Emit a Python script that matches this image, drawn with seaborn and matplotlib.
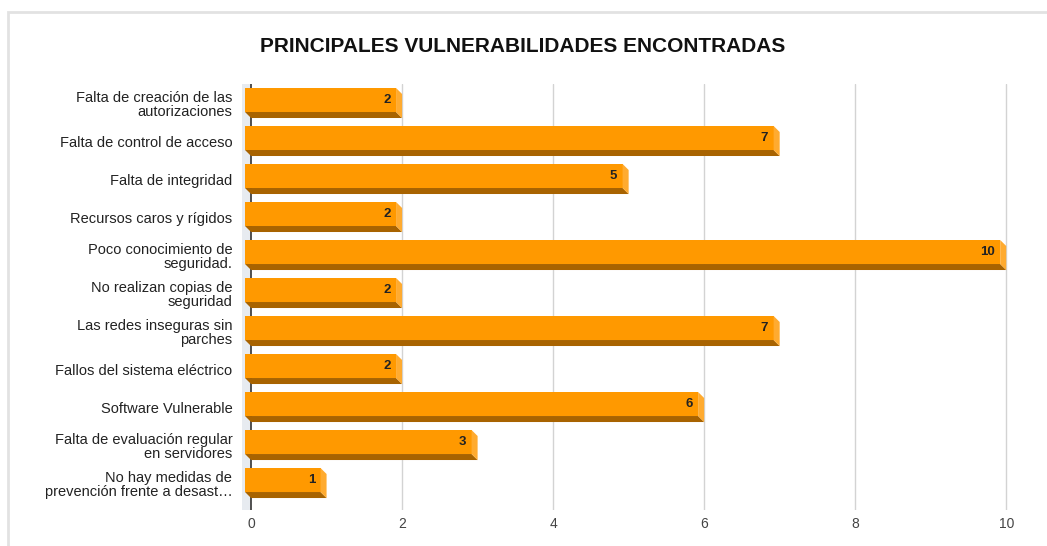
import numpy as np
import pandas as pd
import matplotlib
matplotlib.use('Agg')
import matplotlib.pyplot as plt
from matplotlib.patches import Polygon, Rectangle
import seaborn as sns

labels = [
    'Falta de creación de las\nautorizaciones',
    'Falta de control de acceso',
    'Falta de integridad',
    'Recursos caros y rígidos',
    'Poco conocimiento de\nseguridad.',
    'No realizan copias de\nseguridad',
    'Las redes inseguras sin\nparches',
    'Fallos del sistema eléctrico',
    'Software Vulnerable',
    'Falta de evaluación regular\nen servidores',
    'No hay medidas de\nprevención frente a desast…',
]
values = [2, 7, 5, 2, 10, 2, 7, 2, 6, 3, 1]
xticks = [0, 2, 4, 6, 8, 10]

df = pd.DataFrame({'label': labels, 'value': values})

sns.set_style('white')
plt.rcParams['font.family'] = ['Liberation Sans', 'DejaVu Sans']

fig = plt.figure(figsize=(10.47, 5.46), dpi=100)
ax = fig.add_axes([242 / 1047, 36 / 546, 768 / 1047, 426 / 546])

# colores de la barra 3D
c_front = '#ff9900'
c_side = '#ffab30'
c_bottom = '#a86300'
dx = 0.08   # profundidad horizontal (unidades de datos)
dy = 0.158  # profundidad vertical (unidades de categoria)

sns.barplot(data=df, x='value', y='label', orient='h', color=c_front,
            width=0.79, saturation=1, ax=ax, zorder=3)

ax.set_xlim(-0.12, 10.05)
ax.set_ylim(10.71, -0.5)

# pared izquierda gris claro
ax.axvspan(-0.12, 0, color='#e7ebf0', zorder=1, lw=0)
for xt in xticks[1:]:
    ax.axvline(xt, color='#d3d3d3', lw=1, zorder=1)
ax.axvline(0, color='#333333', lw=1.2, zorder=2)

for p, v in zip(ax.patches, values):
    y0 = p.get_y()
    h = p.get_height()
    y1 = y0 + h
    p.set_x(-dx)
    p.set_height(h - dy)
    p.set_linewidth(0)
    bottom = Polygon([(-dx, y1 - dy), (v - dx, y1 - dy), (v, y1), (0, y1)],
                     closed=True, color=c_bottom, lw=0, zorder=3)
    side = Polygon([(v - dx, y0), (v, y0 + dy), (v, y1), (v - dx, y1 - dy)],
                   closed=True, color=c_side, lw=0, zorder=3)
    ax.add_patch(bottom)
    ax.add_patch(side)
    ax.text(v - dx - 0.07, y0 + (h - dy) / 2, str(v), ha='right', va='center',
            fontsize=9.5, fontweight='bold', color='#222222', zorder=4)

ax.set_xticks(xticks)
ax.set_xticklabels([str(t) for t in xticks], color='#444444', fontsize=10)
ax.tick_params(axis='x', length=0, pad=5)
ax.set_yticks(range(len(labels)))
ax.set_yticklabels(labels, fontsize=10.5, color='#222222', linespacing=1.05)
ax.tick_params(axis='y', length=0, pad=7)
ax.set_xlabel('')
ax.set_ylabel('')
for s in ax.spines.values():
    s.set_visible(False)

fig.text(523 / 1047, 1 - 47 / 546, 'PRINCIPALES VULNERABILIDADES ENCONTRADAS',
         ha='center', va='center', fontsize=15, fontweight='bold',
         color='#111111')

# borde del recuadro
fig.patches.append(Rectangle((8 / 1047, -0.01), 1.0, 1 - 12 / 546 + 0.01,
                             transform=fig.transFigure, fill=False,
                             edgecolor='#e2e2e2', lw=2))

fig.savefig('out.png', dpi=100)
